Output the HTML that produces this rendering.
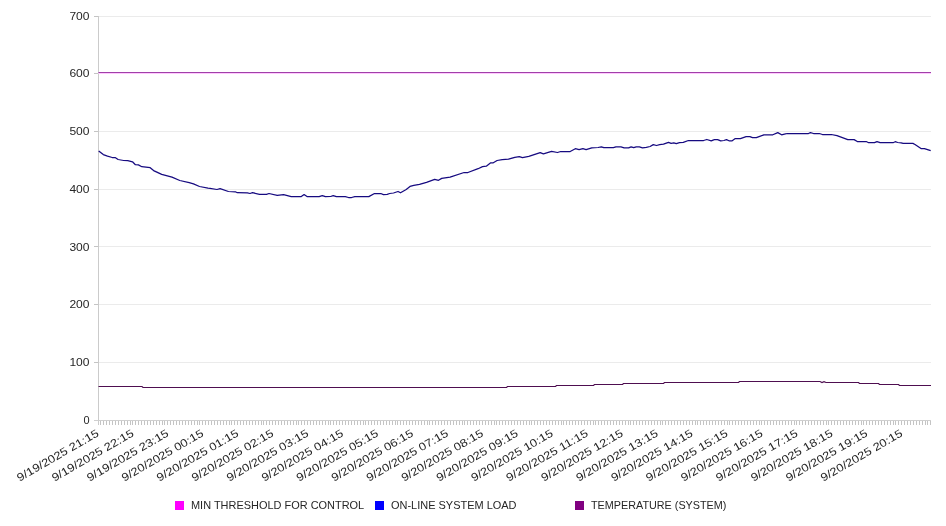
<!DOCTYPE html><html><head><meta charset="utf-8"><style>html,body{margin:0;padding:0;background:#fff;}svg{display:block;will-change:transform}text{font-family:"Liberation Sans",sans-serif;font-size:11px;fill:#262626}</style></head><body>
<svg width="946" height="526" viewBox="0 0 946 526">
<line x1="98" y1="362.5" x2="931" y2="362.5" stroke="#ebebeb" stroke-width="1"/>
<line x1="98" y1="304.5" x2="931" y2="304.5" stroke="#ebebeb" stroke-width="1"/>
<line x1="98" y1="246.5" x2="931" y2="246.5" stroke="#ebebeb" stroke-width="1"/>
<line x1="98" y1="189.5" x2="931" y2="189.5" stroke="#ebebeb" stroke-width="1"/>
<line x1="98" y1="131.5" x2="931" y2="131.5" stroke="#ebebeb" stroke-width="1"/>
<line x1="98" y1="73.5" x2="931" y2="73.5" stroke="#ebebeb" stroke-width="1"/>
<line x1="98" y1="16.5" x2="931" y2="16.5" stroke="#ebebeb" stroke-width="1"/>
<line x1="94" y1="420.5" x2="98" y2="420.5" stroke="#c4c4c4" stroke-width="1"/>
<line x1="94" y1="362.5" x2="98" y2="362.5" stroke="#c4c4c4" stroke-width="1"/>
<line x1="94" y1="304.5" x2="98" y2="304.5" stroke="#c4c4c4" stroke-width="1"/>
<line x1="94" y1="246.5" x2="98" y2="246.5" stroke="#c4c4c4" stroke-width="1"/>
<line x1="94" y1="189.5" x2="98" y2="189.5" stroke="#c4c4c4" stroke-width="1"/>
<line x1="94" y1="131.5" x2="98" y2="131.5" stroke="#c4c4c4" stroke-width="1"/>
<line x1="94" y1="73.5" x2="98" y2="73.5" stroke="#c4c4c4" stroke-width="1"/>
<line x1="94" y1="16.5" x2="98" y2="16.5" stroke="#c4c4c4" stroke-width="1"/>
<line x1="98.5" y1="16" x2="98.5" y2="425" stroke="#cbcbcb" stroke-width="1"/>
<line x1="94" y1="420.5" x2="931" y2="420.5" stroke="#cfcfcf" stroke-width="1"/>
<path d="M100.5 421V425 M103.5 421V425 M106.5 421V425 M109.5 421V425 M112.5 421V425 M115.5 421V425 M118.5 421V425 M121.5 421V425 M124.5 421V425 M127.5 421V425 M130.5 421V425 M132.5 421V425 M135.5 421V425 M138.5 421V425 M141.5 421V425 M144.5 421V425 M147.5 421V425 M150.5 421V425 M153.5 421V425 M156.5 421V425 M159.5 421V425 M162.5 421V425 M164.5 421V425 M167.5 421V425 M170.5 421V425 M173.5 421V425 M176.5 421V425 M179.5 421V425 M182.5 421V425 M185.5 421V425 M188.5 421V425 M191.5 421V425 M194.5 421V425 M197.5 421V425 M199.5 421V425 M202.5 421V425 M205.5 421V425 M208.5 421V425 M211.5 421V425 M214.5 421V425 M217.5 421V425 M220.5 421V425 M223.5 421V425 M226.5 421V425 M229.5 421V425 M231.5 421V425 M234.5 421V425 M237.5 421V425 M240.5 421V425 M243.5 421V425 M246.5 421V425 M249.5 421V425 M252.5 421V425 M255.5 421V425 M258.5 421V425 M261.5 421V425 M263.5 421V425 M266.5 421V425 M269.5 421V425 M272.5 421V425 M275.5 421V425 M278.5 421V425 M281.5 421V425 M284.5 421V425 M287.5 421V425 M290.5 421V425 M293.5 421V425 M296.5 421V425 M298.5 421V425 M301.5 421V425 M304.5 421V425 M307.5 421V425 M310.5 421V425 M313.5 421V425 M316.5 421V425 M319.5 421V425 M322.5 421V425 M325.5 421V425 M328.5 421V425 M330.5 421V425 M333.5 421V425 M336.5 421V425 M339.5 421V425 M342.5 421V425 M345.5 421V425 M348.5 421V425 M351.5 421V425 M354.5 421V425 M357.5 421V425 M360.5 421V425 M363.5 421V425 M365.5 421V425 M368.5 421V425 M371.5 421V425 M374.5 421V425 M377.5 421V425 M380.5 421V425 M383.5 421V425 M386.5 421V425 M389.5 421V425 M392.5 421V425 M395.5 421V425 M397.5 421V425 M400.5 421V425 M403.5 421V425 M406.5 421V425 M409.5 421V425 M412.5 421V425 M415.5 421V425 M418.5 421V425 M421.5 421V425 M424.5 421V425 M427.5 421V425 M429.5 421V425 M432.5 421V425 M435.5 421V425 M438.5 421V425 M441.5 421V425 M444.5 421V425 M447.5 421V425 M450.5 421V425 M453.5 421V425 M456.5 421V425 M459.5 421V425 M462.5 421V425 M464.5 421V425 M467.5 421V425 M470.5 421V425 M473.5 421V425 M476.5 421V425 M479.5 421V425 M482.5 421V425 M485.5 421V425 M488.5 421V425 M491.5 421V425 M494.5 421V425 M496.5 421V425 M499.5 421V425 M502.5 421V425 M505.5 421V425 M508.5 421V425 M511.5 421V425 M514.5 421V425 M517.5 421V425 M520.5 421V425 M523.5 421V425 M526.5 421V425 M529.5 421V425 M531.5 421V425 M534.5 421V425 M537.5 421V425 M540.5 421V425 M543.5 421V425 M546.5 421V425 M549.5 421V425 M552.5 421V425 M555.5 421V425 M558.5 421V425 M561.5 421V425 M563.5 421V425 M566.5 421V425 M569.5 421V425 M572.5 421V425 M575.5 421V425 M578.5 421V425 M581.5 421V425 M584.5 421V425 M587.5 421V425 M590.5 421V425 M593.5 421V425 M595.5 421V425 M598.5 421V425 M601.5 421V425 M604.5 421V425 M607.5 421V425 M610.5 421V425 M613.5 421V425 M616.5 421V425 M619.5 421V425 M622.5 421V425 M625.5 421V425 M628.5 421V425 M630.5 421V425 M633.5 421V425 M636.5 421V425 M639.5 421V425 M642.5 421V425 M645.5 421V425 M648.5 421V425 M651.5 421V425 M654.5 421V425 M657.5 421V425 M660.5 421V425 M662.5 421V425 M665.5 421V425 M668.5 421V425 M671.5 421V425 M674.5 421V425 M677.5 421V425 M680.5 421V425 M683.5 421V425 M686.5 421V425 M689.5 421V425 M692.5 421V425 M695.5 421V425 M697.5 421V425 M700.5 421V425 M703.5 421V425 M706.5 421V425 M709.5 421V425 M712.5 421V425 M715.5 421V425 M718.5 421V425 M721.5 421V425 M724.5 421V425 M727.5 421V425 M729.5 421V425 M732.5 421V425 M735.5 421V425 M738.5 421V425 M741.5 421V425 M744.5 421V425 M747.5 421V425 M750.5 421V425 M753.5 421V425 M756.5 421V425 M759.5 421V425 M761.5 421V425 M764.5 421V425 M767.5 421V425 M770.5 421V425 M773.5 421V425 M776.5 421V425 M779.5 421V425 M782.5 421V425 M785.5 421V425 M788.5 421V425 M791.5 421V425 M794.5 421V425 M796.5 421V425 M799.5 421V425 M802.5 421V425 M805.5 421V425 M808.5 421V425 M811.5 421V425 M814.5 421V425 M817.5 421V425 M820.5 421V425 M823.5 421V425 M826.5 421V425 M828.5 421V425 M831.5 421V425 M834.5 421V425 M837.5 421V425 M840.5 421V425 M843.5 421V425 M846.5 421V425 M849.5 421V425 M852.5 421V425 M855.5 421V425 M858.5 421V425 M861.5 421V425 M863.5 421V425 M866.5 421V425 M869.5 421V425 M872.5 421V425 M875.5 421V425 M878.5 421V425 M881.5 421V425 M884.5 421V425 M887.5 421V425 M890.5 421V425 M893.5 421V425 M895.5 421V425 M898.5 421V425 M901.5 421V425 M904.5 421V425 M907.5 421V425 M910.5 421V425 M913.5 421V425 M916.5 421V425 M919.5 421V425 M922.5 421V425 M925.5 421V425 M927.5 421V425 M930.5 421V425" stroke="#c4c4c4" stroke-width="1"/>
<text x="89.5" y="423.7" text-anchor="end" textLength="6.1" lengthAdjust="spacingAndGlyphs">0</text>
<text x="89.5" y="366.0" text-anchor="end" textLength="20.1" lengthAdjust="spacingAndGlyphs">100</text>
<text x="89.5" y="308.3" text-anchor="end" textLength="20.1" lengthAdjust="spacingAndGlyphs">200</text>
<text x="89.5" y="250.6" text-anchor="end" textLength="20.1" lengthAdjust="spacingAndGlyphs">300</text>
<text x="89.5" y="192.8" text-anchor="end" textLength="20.1" lengthAdjust="spacingAndGlyphs">400</text>
<text x="89.5" y="135.1" text-anchor="end" textLength="20.1" lengthAdjust="spacingAndGlyphs">500</text>
<text x="89.5" y="77.4" text-anchor="end" textLength="20.1" lengthAdjust="spacingAndGlyphs">600</text>
<text x="89.5" y="19.7" text-anchor="end" textLength="20.1" lengthAdjust="spacingAndGlyphs">700</text>
<text transform="translate(99.60,435.5) rotate(-30)" x="0" y="0" text-anchor="end" textLength="92.5" lengthAdjust="spacingAndGlyphs">9/19/2025 21:15</text>
<text transform="translate(134.55,435.5) rotate(-30)" x="0" y="0" text-anchor="end" textLength="92.5" lengthAdjust="spacingAndGlyphs">9/19/2025 22:15</text>
<text transform="translate(169.50,435.5) rotate(-30)" x="0" y="0" text-anchor="end" textLength="92.5" lengthAdjust="spacingAndGlyphs">9/19/2025 23:15</text>
<text transform="translate(204.45,435.5) rotate(-30)" x="0" y="0" text-anchor="end" textLength="92.5" lengthAdjust="spacingAndGlyphs">9/20/2025 00:15</text>
<text transform="translate(239.40,435.5) rotate(-30)" x="0" y="0" text-anchor="end" textLength="92.5" lengthAdjust="spacingAndGlyphs">9/20/2025 01:15</text>
<text transform="translate(274.35,435.5) rotate(-30)" x="0" y="0" text-anchor="end" textLength="92.5" lengthAdjust="spacingAndGlyphs">9/20/2025 02:15</text>
<text transform="translate(309.30,435.5) rotate(-30)" x="0" y="0" text-anchor="end" textLength="92.5" lengthAdjust="spacingAndGlyphs">9/20/2025 03:15</text>
<text transform="translate(344.25,435.5) rotate(-30)" x="0" y="0" text-anchor="end" textLength="92.5" lengthAdjust="spacingAndGlyphs">9/20/2025 04:15</text>
<text transform="translate(379.20,435.5) rotate(-30)" x="0" y="0" text-anchor="end" textLength="92.5" lengthAdjust="spacingAndGlyphs">9/20/2025 05:15</text>
<text transform="translate(414.15,435.5) rotate(-30)" x="0" y="0" text-anchor="end" textLength="92.5" lengthAdjust="spacingAndGlyphs">9/20/2025 06:15</text>
<text transform="translate(449.10,435.5) rotate(-30)" x="0" y="0" text-anchor="end" textLength="92.5" lengthAdjust="spacingAndGlyphs">9/20/2025 07:15</text>
<text transform="translate(484.05,435.5) rotate(-30)" x="0" y="0" text-anchor="end" textLength="92.5" lengthAdjust="spacingAndGlyphs">9/20/2025 08:15</text>
<text transform="translate(519.00,435.5) rotate(-30)" x="0" y="0" text-anchor="end" textLength="92.5" lengthAdjust="spacingAndGlyphs">9/20/2025 09:15</text>
<text transform="translate(553.95,435.5) rotate(-30)" x="0" y="0" text-anchor="end" textLength="92.5" lengthAdjust="spacingAndGlyphs">9/20/2025 10:15</text>
<text transform="translate(588.90,435.5) rotate(-30)" x="0" y="0" text-anchor="end" textLength="92.5" lengthAdjust="spacingAndGlyphs">9/20/2025 11:15</text>
<text transform="translate(623.85,435.5) rotate(-30)" x="0" y="0" text-anchor="end" textLength="92.5" lengthAdjust="spacingAndGlyphs">9/20/2025 12:15</text>
<text transform="translate(658.80,435.5) rotate(-30)" x="0" y="0" text-anchor="end" textLength="92.5" lengthAdjust="spacingAndGlyphs">9/20/2025 13:15</text>
<text transform="translate(693.75,435.5) rotate(-30)" x="0" y="0" text-anchor="end" textLength="92.5" lengthAdjust="spacingAndGlyphs">9/20/2025 14:15</text>
<text transform="translate(728.70,435.5) rotate(-30)" x="0" y="0" text-anchor="end" textLength="92.5" lengthAdjust="spacingAndGlyphs">9/20/2025 15:15</text>
<text transform="translate(763.65,435.5) rotate(-30)" x="0" y="0" text-anchor="end" textLength="92.5" lengthAdjust="spacingAndGlyphs">9/20/2025 16:15</text>
<text transform="translate(798.60,435.5) rotate(-30)" x="0" y="0" text-anchor="end" textLength="92.5" lengthAdjust="spacingAndGlyphs">9/20/2025 17:15</text>
<text transform="translate(833.55,435.5) rotate(-30)" x="0" y="0" text-anchor="end" textLength="92.5" lengthAdjust="spacingAndGlyphs">9/20/2025 18:15</text>
<text transform="translate(868.50,435.5) rotate(-30)" x="0" y="0" text-anchor="end" textLength="92.5" lengthAdjust="spacingAndGlyphs">9/20/2025 19:15</text>
<text transform="translate(903.45,435.5) rotate(-30)" x="0" y="0" text-anchor="end" textLength="92.5" lengthAdjust="spacingAndGlyphs">9/20/2025 20:15</text>
<line x1="98.5" y1="72.5" x2="931" y2="72.5" stroke="#a040a8" stroke-width="1.2"/>
<line x1="98.5" y1="73.5" x2="931" y2="73.5" stroke="#ffc8ff" stroke-width="1"/>
<path d="M98.7 151.0 L103.3 154.6 L107.5 156.1 L112.2 157.5 L115.1 157.5 L118.1 159.5 L123.6 160.5 L127.8 160.7 L132.5 161.8 L135.4 164.7 L138.4 164.9 L141.8 166.7 L150.2 167.7 L153.6 170.6 L161.7 174.4 L172.0 177.2 L179.8 180.5 L189.2 182.7 L193.5 183.9 L199.5 186.5 L208.0 188.2 L210.0 188.3 L217.0 189.5 L220.1 188.6 L228.4 191.5 L235.4 191.8 L237.3 192.7 L247.4 192.8 L250.0 193.5 L252.5 192.7 L259.5 194.3 L266.5 194.3 L269.0 193.5 L277.2 195.3 L283.6 194.6 L291.2 196.6 L301.3 196.6 L304.1 194.6 L307.0 196.6 L319.1 196.6 L322.3 195.6 L325.4 196.6 L330.7 196.5 L333.2 195.6 L336.4 196.6 L345.3 196.6 L348.5 197.5 L351.6 197.5 L354.8 196.6 L368.8 196.6 L374.5 193.5 L380.8 193.5 L383.4 194.6 L387.2 194.3 L389.7 193.5 L393.5 193.0 L398.0 191.5 L400.5 192.8 L406.2 189.5 L410.0 186.4 L413.8 185.4 L419.5 184.4 L426.5 182.3 L434.7 179.3 L438.5 180.3 L441.7 178.4 L450.1 177.2 L464.1 172.5 L467.9 172.5 L478.1 168.7 L482.5 166.6 L486.3 166.2 L490.7 162.8 L493.3 162.8 L497.1 160.5 L502.2 159.6 L508.5 159.2 L514.8 157.3 L519.3 156.7 L522.5 157.6 L528.8 156.4 L540.2 152.6 L543.4 153.8 L551.6 151.4 L557.5 152.5 L560.7 151.5 L570.2 151.5 L575.3 148.7 L579.1 149.6 L582.9 148.7 L586.1 149.7 L591.8 147.8 L598.1 147.5 L601.3 146.8 L603.8 147.7 L613.4 147.7 L615.9 146.8 L621.0 146.8 L624.1 147.8 L628.6 147.8 L631.1 146.8 L633.7 147.7 L636.2 146.8 L639.4 146.8 L642.5 147.8 L646.3 147.4 L650.1 146.5 L653.3 144.6 L656.5 145.5 L659.7 144.6 L663.5 144.2 L668.5 142.3 L671.1 143.3 L673.8 142.8 L676.3 143.7 L679.5 142.7 L683.3 142.4 L688.4 140.5 L703.6 140.5 L706.8 139.5 L711.2 140.8 L714.4 139.6 L717.6 139.6 L720.7 140.8 L723.9 140.5 L726.5 139.6 L729.0 140.8 L732.2 140.8 L735.3 138.6 L740.4 138.6 L746.1 136.7 L749.9 136.7 L752.5 137.7 L756.3 137.7 L763.9 134.8 L772.8 134.8 L777.8 132.6 L781.6 134.8 L785.4 133.9 L787.5 133.5 L808.5 133.5 L810.4 132.6 L813.5 133.5 L819.3 133.5 L822.4 134.5 L831.3 134.5 L837.0 135.7 L847.8 139.6 L854.1 139.6 L857.3 141.5 L866.2 141.5 L868.7 142.7 L874.5 142.7 L877.0 141.7 L880.1 142.7 L893.1 142.7 L895.2 141.7 L897.7 142.5 L901.1 142.8 L903.2 143.4 L912.9 143.4 L915.0 144.5 L921.0 148.6 L924.4 148.6 L930.7 150.6" fill="none" stroke="#160a80" stroke-width="1.25" stroke-linejoin="round"/>
<path d="M98.5 386.5 L142.0 386.5 L143.0 387.5 L506.5 387.5 L507.5 386.5 L555.5 386.5 L556.5 385.5 L593.5 385.5 L594.5 384.5 L622.5 384.5 L623.5 383.5 L663.5 383.5 L664.5 382.5 L738.5 382.5 L739.5 381.5 L820.0 381.5 L822.0 382.5 L824.0 381.7 L826.0 382.5 L858.5 382.5 L859.5 383.5 L878.5 383.5 L879.5 384.5 L898.5 384.5 L899.5 385.5 L931.0 385.5" fill="none" stroke="#4e0e50" stroke-width="1.15"/>
<rect x="175" y="501" width="9" height="9" fill="#ff00ff"/>
<text x="191" y="509.3" textLength="173.2" lengthAdjust="spacingAndGlyphs">MIN THRESHOLD FOR CONTROL</text>
<rect x="375" y="501" width="9" height="9" fill="#0000ff"/>
<text x="391" y="509.3" textLength="125.5" lengthAdjust="spacingAndGlyphs">ON-LINE SYSTEM LOAD</text>
<rect x="575" y="501" width="9" height="9" fill="#800080"/>
<text x="591" y="509.3" textLength="135.4" lengthAdjust="spacingAndGlyphs">TEMPERATURE (SYSTEM)</text>
</svg></body></html>
